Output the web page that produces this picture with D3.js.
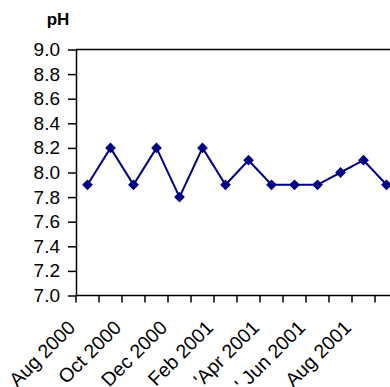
<!DOCTYPE html>
<html><head><meta charset="utf-8">
<script src="https://cdn.jsdelivr.net/npm/d3@7"></script>
<style>
html,body{margin:0;padding:0;background:#fff;}
svg{display:block;font-family:"Liberation Sans",Arial,sans-serif;}
</style></head>
<body>
<svg id="chart" width="390" height="387"></svg>
<script>
const months = ["Aug 2000","Sep 2000","Oct 2000","Nov 2000","Dec 2000","Jan 2001","Feb 2001","Mar 2001","'Apr 2001","May 2001","' Jun 2001","Jul 2001","Aug 2001","Sep 2001"];
const phValues = [7.9, 8.2, 7.9, 8.2, 7.8, 8.2, 7.9, 8.1, 7.9, 7.9, 7.9, 8.0, 8.1, 7.9];
const yTicks = [7.0, 7.2, 7.4, 7.6, 7.8, 8.0, 8.2, 8.4, 8.6, 8.8, 9.0];
const yTitle = "pH";

(function () {
const svg = d3.select("#chart");
const mLeft = 76, mTop = 49.5, mBottom = 295.5, step = 23;
const mRight = mLeft + step * months.length;

const x = d3.scaleBand().domain(months).range([mLeft, mRight]).padding(0);
const y = d3.scaleLinear().domain([7.0, 9.0]).range([mBottom, mTop]);

// top border of plot area
svg.append("line").attr("x1", mLeft).attr("x2", 390).attr("y1", mTop).attr("y2", mTop)
  .attr("stroke", "#000").attr("stroke-width", 1.5);

// Y axis
const yAxis = svg.append("g").attr("transform", `translate(${mLeft},0)`)
  .call(d3.axisLeft(y).tickValues(yTicks).tickFormat(d3.format(".1f")).tickSizeOuter(0).tickSizeInner(8).tickPadding(8));
yAxis.select(".domain").attr("stroke", "#000").attr("stroke-width", 1.5);
yAxis.selectAll(".tick line").attr("stroke", "#000").attr("stroke-width", 1.5);
yAxis.selectAll(".tick text").attr("font-size", "19px").attr("fill", "#000")
  .attr("font-family", "'Liberation Sans',Arial,sans-serif");

// X axis with ticks at category boundaries
const xg = svg.append("g");
xg.append("line").attr("x1", mLeft).attr("x2", 390).attr("y1", mBottom).attr("y2", mBottom)
  .attr("stroke", "#000").attr("stroke-width", 1.5);
xg.selectAll("line.tk").data(months).enter().append("line").attr("class", "tk")
  .attr("x1", d => x(d)).attr("x2", d => x(d))
  .attr("y1", mBottom).attr("y2", mBottom + 7)
  .attr("stroke", "#000").attr("stroke-width", 1.5);
xg.selectAll("text").data(months.filter((d, i) => i % 2 === 0)).enter().append("text")
  .attr("transform", d => `translate(${x(d) + x.bandwidth() / 2 - 16},${mBottom + 28.5}) rotate(-45)`)
  .attr("text-anchor", "end").attr("dy", "0.35em")
  .attr("font-size", "19.5px").attr("fill", "#000")
  .text(d => d);

// Y title
svg.append("text").attr("x", 58).attr("y", 25).attr("text-anchor", "middle")
  .attr("font-size", "17px").attr("font-weight", "bold").text(yTitle);

// line
const line = d3.line().x((d, i) => x(months[i]) + x.bandwidth() / 2).y(d => y(d));
svg.append("path").datum(phValues).attr("d", line)
  .attr("fill", "none").attr("stroke", "#000080").attr("stroke-width", 2);

// markers
svg.selectAll("path.mk").data(phValues).enter().append("path").attr("class", "mk")
  .attr("d", d3.symbol().type(d3.symbolSquare).size(58))
  .attr("transform", (d, i) => `translate(${x(months[i]) + x.bandwidth() / 2},${y(d)}) rotate(45)`)
  .attr("fill", "#000080");
})();
</script>
</body></html>
